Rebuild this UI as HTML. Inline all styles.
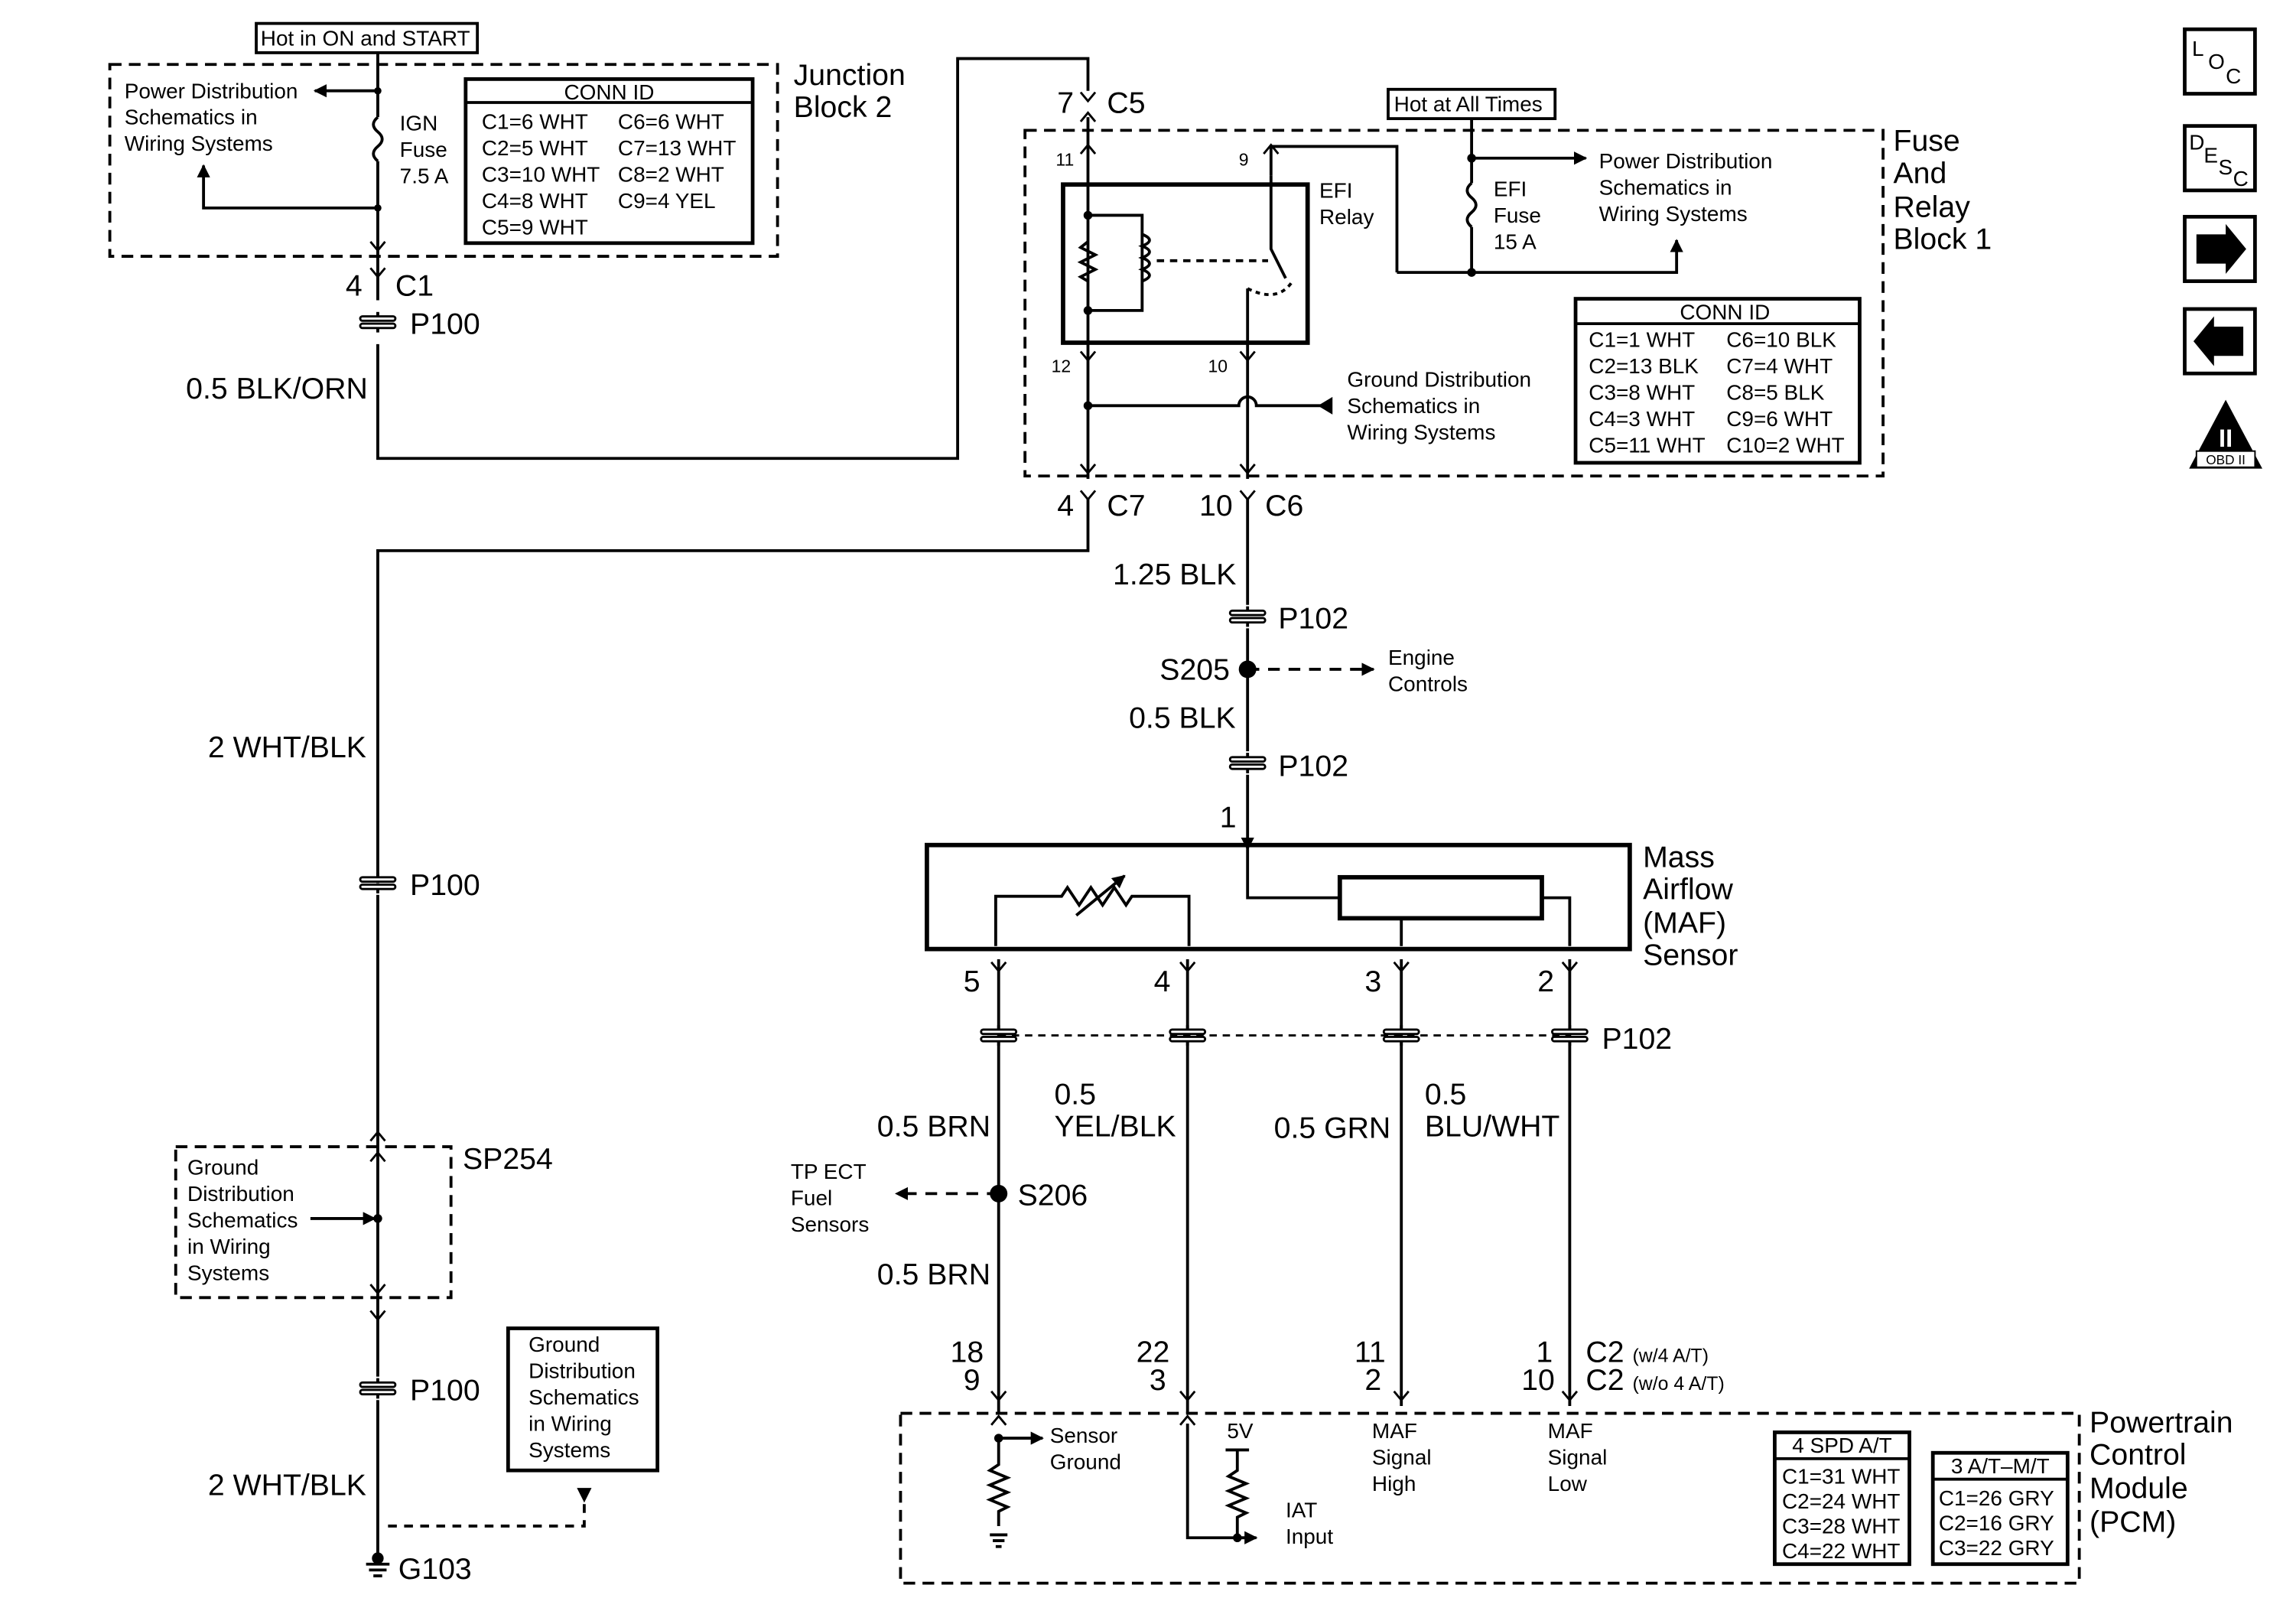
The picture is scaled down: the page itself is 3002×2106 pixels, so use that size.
<!DOCTYPE html>
<html><head><meta charset="utf-8"><style>html,body{margin:0;padding:0;background:#fff}svg{display:block}text{font-family:"Liberation Sans",Arial,sans-serif;fill:#000}.L{font-size:20.5px}.S{font-size:14.6px}.T{font-size:12px}</style></head><body>
<svg width="3002" height="2106" viewBox="0 0 1568 1100" preserveAspectRatio="none" xmlns="http://www.w3.org/2000/svg">
<defs>
<marker id="a" viewBox="0 0 10 10" refX="9" refY="5" markerWidth="9" markerHeight="9" orient="auto" markerUnits="userSpaceOnUse"><path d="M0,0L10,5L0,10z"/></marker>
<g id="p"><rect x="-12" y="-4" width="24" height="3" rx="1.5" fill="#fff" stroke="#000" stroke-width="1.5"/><rect x="-12" y="1" width="24" height="3" rx="1.5" fill="#fff" stroke="#000" stroke-width="1.5"/><line x1="0" y1="-7" x2="0" y2="-4" stroke="#000" stroke-width="2"/><line x1="0" y1="4" x2="0" y2="7" stroke="#000" stroke-width="2"/></g>
<g id="cv"><path d="M-5,-3L0,3L5,-3" fill="none" stroke="#000" stroke-width="1.5"/></g>
</defs>
<g stroke="#000" stroke-width="2" fill="none">
<rect x="75" y="44" width="456" height="131" stroke-dasharray="8,5"/>
<line x1="258" y1="36" x2="258" y2="80"/>
<path d="M258,80q-6,5 0,10q6,5 0,10q-6,5 0,10"/>
<line x1="258" y1="110" x2="258" y2="205"/>
<line x1="258" y1="62" x2="215" y2="62" marker-end="url(#a)"/>
<path d="M258,142H139V113" marker-end="url(#a)"/>
<rect x="318" y="54" width="196" height="112" stroke-width="2.5"/>
<line x1="318" y1="70" x2="514" y2="70"/>
<path d="M258,235V313H654V40H743V62"/>
<rect x="700" y="89" width="586" height="236" stroke-dasharray="8,5"/>
<line x1="1005" y1="81" x2="1005" y2="125"/>
<path d="M1005,125q-6,5 0,10q6,5 0,10q-6,5 0,10"/>
<line x1="1005" y1="155" x2="1005" y2="186"/>
<line x1="1005" y1="108" x2="1083" y2="108" marker-end="url(#a)"/>
<path d="M954,186H1145V164" marker-end="url(#a)"/>
<path d="M954,186V100H868V120"/>
<line x1="743" y1="80" x2="743" y2="327"/>
<rect x="726" y="126" width="167" height="108" stroke-width="3"/>
<path d="M743,147H780V212H743"/>
<path d="M743,165l-5,4l10,5l-10,5l10,5l-10,5l5,3"/>
<path d="M780,160q10,4 0,8q10,4 0,8q10,4 0,8q10,4 0,8"/>
<line x1="790" y1="178" x2="866" y2="178" stroke-dasharray="5,4"/>
<path d="M868,120V170L878,190"/>
<path d="M852,197V327"/>
<path d="M852,197q20,10 30,-4" stroke-dasharray="3,3"/>
<path d="M743,277H846a6,6 0 0 1 12,0H905"/>
<rect x="1076" y="204" width="194" height="112" stroke-width="2.5"/>
<line x1="1076" y1="221" x2="1270" y2="221"/>
<path d="M743,340V376H258V603"/>
<line x1="258" y1="611" x2="258" y2="772"/>
<line x1="852" y1="340" x2="852" y2="413"/>
<line x1="852" y1="429" x2="852" y2="513"/>
<line x1="852" y1="457" x2="938" y2="457" stroke-dasharray="8,6" marker-end="url(#a)"/>
<line x1="852" y1="529" x2="852" y2="580" marker-end="url(#a)"/>
<rect x="633" y="577" width="480" height="71" stroke-width="3"/>
<path d="M852,580V613H915"/>
<rect x="915" y="599" width="138" height="28" stroke-width="3"/>
<path d="M680,646V612H725l4,-6l8,12l8,-12l8,12l8,-12l8,12l4,-6H812V646"/>
<line x1="735" y1="625" x2="768" y2="598" marker-end="url(#a)"/>
<line x1="957" y1="627" x2="957" y2="646"/>
<path d="M1053,613H1072V646"/>
<line x1="682" y1="655" x2="682" y2="965"/>
<line x1="811" y1="655" x2="811" y2="965"/>
<line x1="957" y1="655" x2="957" y2="960"/>
<line x1="1072" y1="655" x2="1072" y2="960"/>
<line x1="682" y1="707" x2="1072" y2="707" stroke-dasharray="5,4" stroke-width="1.5"/>
<line x1="682" y1="815" x2="612" y2="815" stroke-dasharray="8,6" marker-end="url(#a)"/>
<rect x="615" y="965" width="805" height="116" stroke-dasharray="8,5"/>
<line x1="682" y1="982" x2="712" y2="982" marker-end="url(#a)"/>
<path d="M682,982V1000l-6,4l12,5l-12,5l12,5l-12,5l12,5l-6,3V1042"/>
<path d="M811,972V1050H857" />
<line x1="845" y1="1050" x2="858" y2="1050" marker-end="url(#a)"/>
<line x1="837" y1="990" x2="853" y2="990"/>
<path d="M845,990V1004l-6,4l12,5l-12,5l12,5l-12,5l12,5l-6,3V1050"/>
<rect x="1212" y="978" width="92" height="90" stroke-width="2.5"/>
<line x1="1212" y1="996" x2="1304" y2="996"/>
<rect x="1320" y="992" width="92" height="76" stroke-width="2.5"/>
<line x1="1320" y1="1010" x2="1412" y2="1010"/>
<rect x="120" y="783" width="188" height="103" stroke-dasharray="8,5"/>
<line x1="258" y1="772" x2="258" y2="940"/>
<line x1="212" y1="832" x2="256" y2="832" marker-end="url(#a)"/>
<line x1="258" y1="956" x2="258" y2="1063"/>
<rect x="347" y="907" width="102" height="97" stroke-width="2.5"/>
<path d="M265,1042H399V1020" stroke-dasharray="6,5"/>
<rect x="1492" y="20" width="48" height="44" stroke-width="2.5"/>
<rect x="1492" y="86" width="48" height="44" stroke-width="2.5"/>
<rect x="1492" y="148" width="48" height="44" stroke-width="2.5"/>
<rect x="1492" y="211" width="48" height="44" stroke-width="2.5"/>
</g>
<rect x="175" y="16" width="151" height="20" fill="#fff" stroke="#000" stroke-width="2"/>
<rect x="948" y="61" width="114" height="20" fill="#fff" stroke="#000" stroke-width="2"/>
<g fill="#000">
<circle cx="258" cy="62" r="2.5"/><circle cx="258" cy="142" r="2.5"/>
<circle cx="1005" cy="108" r="3"/><circle cx="1005" cy="186" r="3"/>
<circle cx="743" cy="147" r="3"/><circle cx="743" cy="212" r="3"/><circle cx="743" cy="277" r="3"/>
<circle cx="852" cy="457" r="6"/><circle cx="682" cy="815" r="6"/>
<circle cx="682" cy="982" r="3"/><circle cx="845" cy="1050" r="3"/><circle cx="258" cy="832" r="3"/>
<path d="M910,271L900,277L910,283z"/>
<path d="M394,1016L404,1016L399,1026z"/>
<path d="M1500,160h20v-7l14,17l-14,17v-7h-20z"/>
<path d="M1532,223h-20v-7l-14,17l14,17v-7h20z"/>
<path d="M1520,273L1545,320H1495z"/>
</g>
<text x="1520" y="305" text-anchor="middle" font-weight="bold" style="font-size:17px;fill:#fff">II</text>
<rect x="1500" y="308" width="40" height="11" fill="#fff" stroke="#000" stroke-width="1"/>
<text x="1520" y="317" text-anchor="middle" style="font-size:9px">OBD II</text>
<g stroke="#000" stroke-width="2" fill="none">
<path d="M676,1048h12M678,1052h8M680,1056h4"/>
<path d="M250,1068h16M252,1072h12M255,1076h6"/>
</g>
<circle cx="258" cy="1064" r="4"/>
<g>
<use href="#cv" x="258" y="168"/><use href="#cv" x="258" y="186"/>
<use href="#p" x="258" y="220"/><use href="#p" x="258" y="603"/><use href="#p" x="258" y="948"/>
<use href="#cv" x="743" y="66"/><use href="#cv" x="743" y="80" transform="rotate(180 743 80)"/>
<use href="#cv" x="743" y="102" transform="rotate(180 743 102)"/><use href="#cv" x="868" y="102" transform="rotate(180 868 102)"/>
<use href="#cv" x="743" y="243"/><use href="#cv" x="852" y="243"/>
<use href="#cv" x="743" y="320"/><use href="#cv" x="852" y="320"/>
<use href="#cv" x="743" y="338"/><use href="#cv" x="852" y="338"/>
<use href="#p" x="852" y="421"/><use href="#p" x="852" y="521"/>
<use href="#cv" x="682" y="660"/><use href="#cv" x="811" y="660"/><use href="#cv" x="957" y="660"/><use href="#cv" x="1072" y="660"/>
<use href="#p" x="682" y="707"/><use href="#p" x="811" y="707"/><use href="#p" x="957" y="707"/><use href="#p" x="1072" y="707"/>
<use href="#cv" x="682" y="953"/><use href="#cv" x="811" y="953"/><use href="#cv" x="957" y="953"/><use href="#cv" x="1072" y="953"/>
<use href="#cv" x="682" y="970" transform="rotate(180 682 970)"/><use href="#cv" x="811" y="970" transform="rotate(180 811 970)"/>
<use href="#cv" x="258" y="776" transform="rotate(180 258 776)"/><use href="#cv" x="258" y="790" transform="rotate(180 258 790)"/>
<use href="#cv" x="258" y="880"/><use href="#cv" x="258" y="898"/>
</g>
<text x="178" y="31" class="S">Hot in ON and START</text>
<text x="952" y="76" class="S">Hot at All Times</text>
<text x="85" y="67" class="S">Power Distribution</text><text x="85" y="85" class="S">Schematics in</text><text x="85" y="103" class="S">Wiring Systems</text>
<text x="273" y="89" class="S">IGN</text><text x="273" y="107" class="S">Fuse</text><text x="273" y="125" class="S">7.5 A</text>
<text x="416" y="68" class="S" text-anchor="middle">CONN ID</text>
<g class="S"><text x="329" y="88">C1=6 WHT</text><text x="422" y="88">C6=6 WHT</text><text x="329" y="106">C2=5 WHT</text><text x="422" y="106">C7=13 WHT</text><text x="329" y="124">C3=10 WHT</text><text x="422" y="124">C8=2 WHT</text><text x="329" y="142">C4=8 WHT</text><text x="422" y="142">C9=4 YEL</text><text x="329" y="160">C5=9 WHT</text></g>
<text x="542" y="58" class="L">Junction</text><text x="542" y="80" class="L">Block 2</text>
<text x="236" y="202" class="L">4</text><text x="270" y="202" class="L">C1</text>
<text x="280" y="228" class="L">P100</text>
<text x="127" y="272" class="L">0.5 BLK/ORN</text>
<text x="722" y="77" class="L">7</text><text x="756" y="77" class="L">C5</text>
<text x="1293" y="103" class="L">Fuse</text><text x="1293" y="125" class="L">And</text><text x="1293" y="148" class="L">Relay</text><text x="1293" y="170" class="L">Block 1</text>
<text x="1092" y="115" class="S">Power Distribution</text><text x="1092" y="133" class="S">Schematics in</text><text x="1092" y="151" class="S">Wiring Systems</text>
<text x="1020" y="134" class="S">EFI</text><text x="1020" y="152" class="S">Fuse</text><text x="1020" y="170" class="S">15 A</text>
<text x="901" y="135" class="S">EFI</text><text x="901" y="153" class="S">Relay</text>
<text x="721" y="113" class="T">11</text><text x="846" y="113" class="T">9</text>
<text x="718" y="254" class="T">12</text><text x="825" y="254" class="T">10</text>
<text x="920" y="264" class="S">Ground Distribution</text><text x="920" y="282" class="S">Schematics in</text><text x="920" y="300" class="S">Wiring Systems</text>
<text x="1178" y="218" class="S" text-anchor="middle">CONN ID</text>
<g class="S"><text x="1085" y="237">C1=1 WHT</text><text x="1179" y="237">C6=10 BLK</text><text x="1085" y="255">C2=13 BLK</text><text x="1179" y="255">C7=4 WHT</text><text x="1085" y="273">C3=8 WHT</text><text x="1179" y="273">C8=5 BLK</text><text x="1085" y="291">C4=3 WHT</text><text x="1179" y="291">C9=6 WHT</text><text x="1085" y="309">C5=11 WHT</text><text x="1179" y="309">C10=2 WHT</text></g>
<text x="722" y="352" class="L">4</text><text x="756" y="352" class="L">C7</text>
<text x="819" y="352" class="L">10</text><text x="864" y="352" class="L">C6</text>
<text x="760" y="399" class="L">1.25 BLK</text><text x="873" y="429" class="L">P102</text>
<text x="792" y="464" class="L">S205</text>
<text x="948" y="454" class="S">Engine</text><text x="948" y="472" class="S">Controls</text>
<text x="771" y="497" class="L">0.5 BLK</text><text x="873" y="530" class="L">P102</text>
<text x="833" y="565" class="L">1</text>
<text x="1122" y="592" class="L">Mass</text><text x="1122" y="614" class="L">Airflow</text><text x="1122" y="637" class="L">(MAF)</text><text x="1122" y="659" class="L">Sensor</text>
<text x="658" y="677" class="L">5</text><text x="788" y="677" class="L">4</text><text x="932" y="677" class="L">3</text><text x="1050" y="677" class="L">2</text>
<text x="1094" y="716" class="L">P102</text>
<text x="142" y="517" class="L">2 WHT/BLK</text><text x="280" y="611" class="L">P100</text>
<text x="599" y="776" class="L">0.5 BRN</text>
<text x="720" y="754" class="L">0.5</text><text x="720" y="776" class="L">YEL/BLK</text>
<text x="870" y="777" class="L">0.5 GRN</text>
<text x="973" y="754" class="L">0.5</text><text x="973" y="776" class="L">BLU/WHT</text>
<text x="540" y="805" class="S">TP ECT</text><text x="540" y="823" class="S">Fuel</text><text x="540" y="841" class="S">Sensors</text>
<text x="695" y="823" class="L">S206</text>
<text x="599" y="877" class="L">0.5 BRN</text>
<text x="649" y="930" class="L">18</text><text x="658" y="949" class="L">9</text>
<text x="776" y="930" class="L">22</text><text x="785" y="949" class="L">3</text>
<text x="925" y="930" class="L">11</text><text x="932" y="949" class="L">2</text>
<text x="1049" y="930" class="L">1</text><text x="1039" y="949" class="L">10</text>
<text x="1083" y="930" class="L">C2 <tspan style="font-size:13px">(w/4 A/T)</tspan></text>
<text x="1083" y="949" class="L">C2 <tspan style="font-size:13px">(w/o 4 A/T)</tspan></text>
<text x="1427" y="978" class="L">Powertrain</text><text x="1427" y="1000" class="L">Control</text><text x="1427" y="1023" class="L">Module</text><text x="1427" y="1046" class="L">(PCM)</text>
<text x="717" y="985" class="S">Sensor</text><text x="717" y="1003" class="S">Ground</text>
<text x="838" y="982" class="S">5V</text>
<text x="878" y="1036" class="S">IAT</text><text x="878" y="1054" class="S">Input</text>
<text x="937" y="982" class="S">MAF</text><text x="937" y="1000" class="S">Signal</text><text x="937" y="1018" class="S">High</text>
<text x="1057" y="982" class="S">MAF</text><text x="1057" y="1000" class="S">Signal</text><text x="1057" y="1018" class="S">Low</text>
<text x="1258" y="992" class="S" text-anchor="middle">4 SPD A/T</text>
<g class="S"><text x="1217" y="1013">C1=31 WHT</text><text x="1217" y="1030">C2=24 WHT</text><text x="1217" y="1047">C3=28 WHT</text><text x="1217" y="1064">C4=22 WHT</text></g>
<text x="1366" y="1006" class="S" text-anchor="middle">3 A/T–M/T</text>
<g class="S"><text x="1324" y="1028">C1=26 GRY</text><text x="1324" y="1045">C2=16 GRY</text><text x="1324" y="1062">C3=22 GRY</text></g>
<text x="316" y="798" class="L">SP254</text>
<text x="128" y="802" class="S">Ground</text><text x="128" y="820" class="S">Distribution</text><text x="128" y="838" class="S">Schematics</text><text x="128" y="856" class="S">in Wiring</text><text x="128" y="874" class="S">Systems</text>
<text x="280" y="956" class="L">P100</text>
<text x="361" y="923" class="S">Ground</text><text x="361" y="941" class="S">Distribution</text><text x="361" y="959" class="S">Schematics</text><text x="361" y="977" class="S">in Wiring</text><text x="361" y="995" class="S">Systems</text>
<text x="142" y="1021" class="L">2 WHT/BLK</text>
<text x="272" y="1078" class="L">G103</text>
<text x="1497" y="38" class="S">L</text><text x="1508" y="47" class="S">O</text><text x="1520" y="57" class="S">C</text>
<text x="1495" y="102" class="S">D</text><text x="1505" y="111" class="S">E</text><text x="1515" y="119" class="S">S</text><text x="1525" y="127" class="S">C</text>
</svg>
</body></html>
